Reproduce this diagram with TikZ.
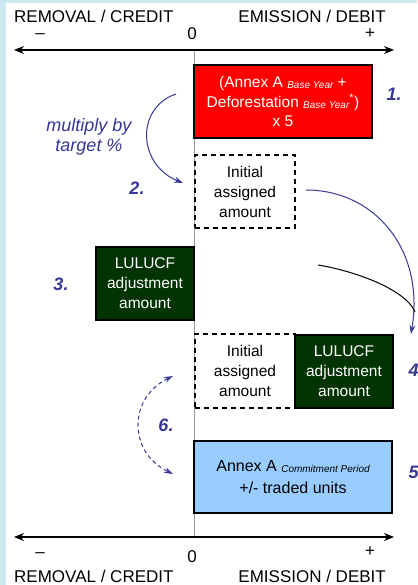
\documentclass[tikz,border=0pt]{standalone}
\usepackage{fontspec}
\setmainfont{Liberation Sans}
\usetikzlibrary{arrows.meta}
\definecolor{bgblue}{RGB}{205,232,238}
\definecolor{numblue}{RGB}{55,55,150}
\definecolor{dgreen}{RGB}{2,52,2}
\definecolor{lblue}{RGB}{153,204,255}
\newcommand{\subit}[1]{\raisebox{-1pt}{\fontsize{10}{10}\selectfont\itshape #1}}
\begin{document}
\begin{tikzpicture}[x=1pt,y=-1pt,
  lbl/.style={font=\fontsize{17}{17}\selectfont, inner sep=0},
  sym/.style={font=\fontsize{17}{17}\selectfont, inner sep=0, anchor=base},
  num/.style={font=\fontsize{18}{18}\selectfont\bfseries\itshape, text=numblue, inner sep=0},
  box/.style={draw=black, line width=1.4pt, align=center, inner sep=0,
    font=\fontsize{15.5}{20}\selectfont},
  dbox/.style={box, dash pattern=on 5pt off 4pt},
  axis/.style={line width=1.3pt, {Stealth[length=10pt,width=8pt]}-{Stealth[length=10pt,width=8pt]}},
  barrow/.style={numblue, line width=1pt, -{Stealth[length=9pt,width=6pt]}}
]
\useasboundingbox (0,0) rectangle (417,585);
\fill[bgblue] (0,0) rectangle (417,585);
\fill[white] (6,3) rectangle (417,585);

% axes
\coordinate (tl) at (14,50); \coordinate (tr) at (394,50);
\coordinate (bl) at (14,537); \coordinate (br) at (394,537);
\coordinate (vt) at (194,50); \coordinate (vb) at (194,537);
\draw[gray!80, line width=1pt] (vt) -- (vb);
\draw[axis] (tl) -- (tr);
\draw[axis] (bl) -- (br);

\node[lbl, anchor=base west] (rct) at (14,23) {REMOVAL / CREDIT};
\node[lbl, anchor=base east] (edt) at (386,23) {EMISSION / DEBIT};
\node[sym] (mt) at (40,39) {–};
\node[sym] (zt) at (192,40) {0};
\node[sym] (pt) at (370,39) {+};
\node[lbl, anchor=base west] (rcb) at (14,582) {REMOVAL / CREDIT};
\node[lbl, anchor=base east] (edb) at (386,582) {EMISSION / DEBIT};
\node[sym] (mb) at (40,557) {–};
\node[sym] (zb) at (192,562) {0};
\node[sym] (pb) at (370,556) {+};

% boxes
\node[box, fill=red, text=white, minimum width=178pt, minimum height=73pt,
  font=\fontsize{15.5}{19.5}\selectfont] (red) at (283,101.5)
  {(Annex A \subit{Base Year} +\\Deforestation \subit{Base Year}\textsuperscript{*})\\x 5};
\node[dbox, fill=white, minimum width=100pt, minimum height=73pt] (ia1) at (245,191.5)
  {Initial\\assigned\\amount};
\node[box, fill=dgreen, text=white, minimum width=98pt, minimum height=73pt] (lu3) at (145,283.5)
  {LULUCF\\adjustment\\amount};
\node[dbox, fill=white, minimum width=100pt, minimum height=74pt] (ia2) at (245,371)
  {Initial\\assigned\\amount};
\node[box, fill=dgreen, text=white, minimum width=98pt, minimum height=73pt] (lu4) at (344,371.5)
  {LULUCF\\adjustment\\amount};
\node[box, fill=lblue, minimum width=198pt, minimum height=72pt,
  font=\fontsize{16}{22}\selectfont] (cp) at (293,477)
  {Annex A \subit{Commitment Period}\\+/- traded units};

% numbers
\node[num] (n1) at (394,94) {1.};
\node[num] (n2) at (137,188) {2.};
\node[num] (n3) at (61,284) {3.};
\node[num] (n4) at (416,370) {4.};
\node[num] (n5) at (416,472) {5.};
\node[num] (n6) at (166,425) {6.};
\node[font=\fontsize{18}{20}\selectfont\itshape, text=numblue, align=center, inner sep=0]
  (mul) at (89,137) {multiply by\\target \%};

% arrows
\coordinate (a1s) at (176,94); \coordinate (a1e) at (183,183);
\draw[barrow] (a1s) .. controls (135,108) and (138,165) .. (a1e);
\coordinate (a2s) at (306,190); \coordinate (a2e) at (411,334);
\draw[barrow] (a2s) .. controls (375,190) and (425,250) .. (a2e);
\coordinate (ks) at (318,265); \coordinate (ke) at (415,312);
\draw[black, line width=1pt] (ks) .. controls (350,270) and (405,288) .. (ke);
\coordinate (d1) at (173,376); \coordinate (d2) at (173,474);
\draw[numblue, line width=1pt, dash pattern=on 4pt off 3pt,
  {Stealth[length=9pt,width=6pt]}-{Stealth[length=9pt,width=6pt]}]
  (d1) .. controls (128,398) and (128,452) .. (d2);
\end{tikzpicture}
\end{document}
